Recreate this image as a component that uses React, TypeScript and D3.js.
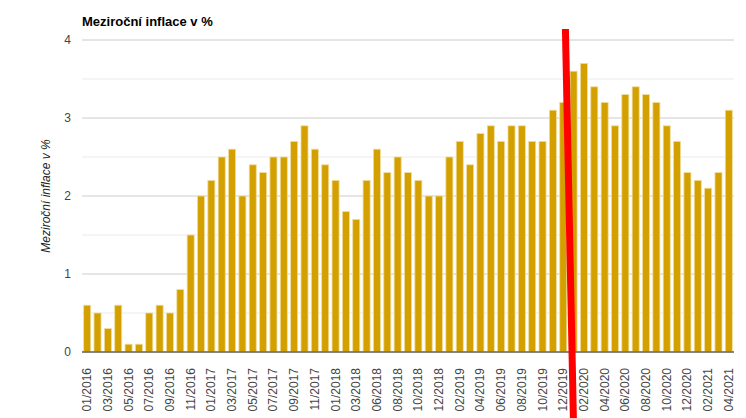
import React from "react";
import * as d3 from "d3";

const categories: string[] = [
  "01/2016","02/2016","03/2016","04/2016","05/2016","06/2016","07/2016","08/2016","09/2016","10/2016","11/2016","12/2016",
  "01/2017","02/2017","03/2017","04/2017","05/2017","06/2017","07/2017","08/2017","09/2017","10/2017","11/2017","12/2017",
  "01/2018","02/2018","03/2018","05/2018","06/2018","07/2018","08/2018","09/2018","10/2018","11/2018","12/2018",
  "01/2019","02/2019","03/2019","04/2019","05/2019","06/2019","07/2019","08/2019","09/2019","10/2019","11/2019","12/2019",
  "01/2020","02/2020","03/2020","04/2020","05/2020","06/2020","07/2020","08/2020","09/2020","10/2020","11/2020","12/2020",
  "01/2021","02/2021","03/2021","04/2021",
];

const inflation: number[] = [
  0.6,0.5,0.3,0.6,0.1,0.1,0.5,0.6,0.5,0.8,1.5,2.0,
  2.2,2.5,2.6,2.0,2.4,2.3,2.5,2.5,2.7,2.9,2.6,2.4,
  2.2,1.8,1.7,2.2,2.6,2.3,2.5,2.3,2.2,2.0,2.0,
  2.5,2.7,2.4,2.8,2.9,2.7,2.9,2.9,2.7,2.7,3.1,3.2,
  3.6,3.7,3.4,3.2,2.9,3.3,3.4,3.3,3.2,2.9,2.7,2.3,
  2.2,2.1,2.3,3.1,
];

const majorTicks: number[] = [0, 1, 2, 3, 4];
const minorTicks: number[] = [0.5, 1.5, 2.5, 3.5];
const title = "Meziroční inflace v %";
const yTitle = "Meziroční inflace v %";
const markerCategory = "12/2019";

const W = 746;
const H = 418;
const m = { left: 82, right: 12, top: 40, bottom: 66 };
const FONT = "Arial, 'Liberation Sans', sans-serif";

export default function App() {
  const x = d3
    .scaleBand<string>()
    .domain(categories)
    .range([m.left, W - m.right])
    .paddingInner(0.32)
    .paddingOuter(0.16);
  const y = d3.scaleLinear().domain([0, 4]).range([H - m.bottom, m.top]);
  const step = x.step();
  const xb = x(markerCategory) as number;

  return (
    <div style={{ position: "absolute", left: 0, top: 0 }}>
      <svg width={W} height={H} style={{ display: "block", background: "#fff" }} fontFamily={FONT}>
        <text x={m.left} y={26} fontSize={13} fontWeight="bold" fill="#000">{title}</text>
        {minorTicks.map((t) => (
          <line key={"mi" + t} x1={m.left} x2={W - m.right} y1={y(t)} y2={y(t)} stroke="#ebebeb" strokeWidth={1} />
        ))}
        {majorTicks.map((t) => (
          <line key={"ma" + t} x1={m.left} x2={W - m.right} y1={y(t)} y2={y(t)} stroke="#cccccc" strokeWidth={1} />
        ))}
        {majorTicks.map((t) => (
          <text key={"yl" + t} x={71} y={y(t) + 4} fontSize={12} textAnchor="end" fill="#444">{t}</text>
        ))}
        <text
          transform={`translate(50,${(y(0) + y(4)) / 2}) rotate(-90)`}
          fontSize={12}
          fontStyle="italic"
          textAnchor="middle"
          fill="#222"
        >
          {yTitle}
        </text>
        {inflation.map((v, i) => (
          <rect
            key={i}
            x={x(categories[i])}
            y={y(v)}
            width={x.bandwidth()}
            height={y(0) - y(v)}
            fill="#d4a000"
            stroke="#f0dc9c"
            strokeWidth={0.8}
          />
        ))}
        <line x1={m.left} x2={W - m.right} y1={y(0)} y2={y(0)} stroke="#666" strokeWidth={1.5} />
        {categories.map((c, i) =>
          i % 2 === 0 ? (
            <text
              key={"xl" + c}
              transform={`translate(${(x(c) as number) + x.bandwidth() / 2 + 4},${y(0) + 16}) rotate(-90)`}
              fontSize={12}
              textAnchor="end"
              fill="#444"
            >
              {c}
            </text>
          ) : null
        )}
        <line x1={xb + step * 0.55} y1={29} x2={xb + step * 1.32} y2={H} stroke="#ff0000" strokeWidth={7} />
      </svg>
    </div>
  );
}
